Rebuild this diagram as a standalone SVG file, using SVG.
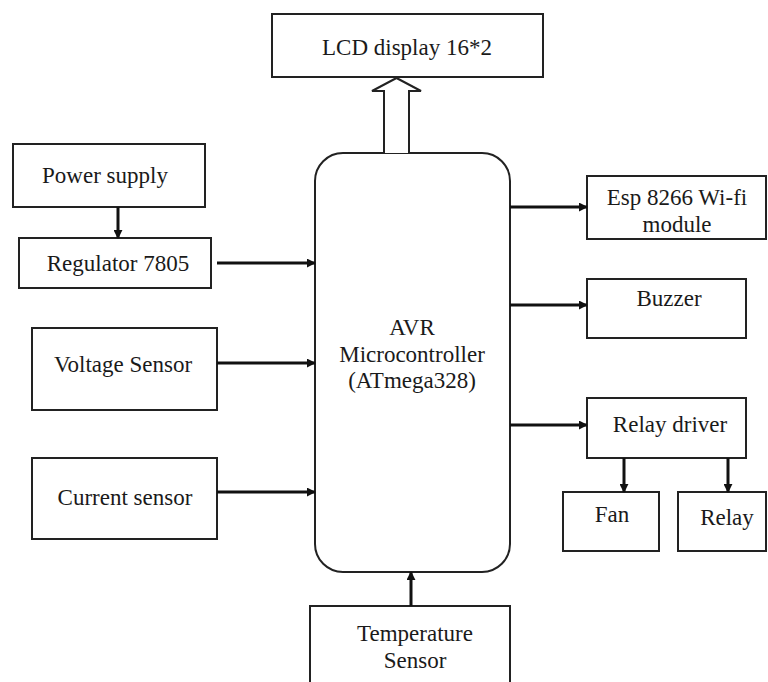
<svg xmlns="http://www.w3.org/2000/svg" width="768" height="682" viewBox="0 0 768 682">
<defs>
<marker id="ah" viewBox="0 0 10 10" refX="9" refY="5" markerWidth="3" markerHeight="3" orient="auto" markerUnits="strokeWidth">
<path d="M0,0 L10,5 L0,10 z" fill="#111"/>
</marker>
<style>
.box{fill:#fff;stroke:#222;stroke-width:2}
.t{font-family:"Liberation Serif","Times New Roman",serif;font-size:23px;fill:#1a1a1a;text-anchor:middle}
.c{stroke:#111;stroke-width:3;fill:none;marker-end:url(#ah)}
</style>
</defs>
<rect width="768" height="682" fill="#fff"/>

<g id="lcd">
<rect class="box" x="272" y="14" width="271" height="63"/>
<text class="t" x="407" y="55">LCD display 16*2</text>
</g>

<g id="mcu">
<rect class="box" x="315" y="153" width="195" height="419" rx="28"/>
<text class="t" x="412" y="335">AVR</text>
<text class="t" x="412" y="362">Microcontroller</text>
<text class="t" x="412" y="388">(ATmega328)</text>
</g>

<g id="power">
<rect class="box" x="13" y="144" width="192" height="63"/>
<text class="t" x="105" y="183">Power supply</text>
</g>

<g id="regulator">
<rect class="box" x="19" y="238" width="192" height="50"/>
<text class="t" x="118" y="271">Regulator 7805</text>
</g>

<g id="voltage">
<rect class="box" x="32" y="328" width="185" height="82"/>
<text class="t" x="123" y="372">Voltage Sensor</text>
</g>

<g id="current">
<rect class="box" x="32" y="458" width="185" height="81"/>
<text class="t" x="125" y="505">Current sensor</text>
</g>

<g id="esp">
<rect class="box" x="587" y="176" width="179" height="63"/>
<text class="t" x="677" y="205">Esp 8266 Wi-fi</text>
<text class="t" x="677" y="232">module</text>
</g>

<g id="buzzer">
<rect class="box" x="587" y="279" width="159" height="59"/>
<text class="t" x="669" y="306">Buzzer</text>
</g>

<g id="relaydriver">
<rect class="box" x="587" y="398" width="159" height="60"/>
<text class="t" x="670" y="432">Relay driver</text>
</g>

<g id="fan">
<rect class="box" x="563" y="492" width="96" height="59"/>
<text class="t" x="612" y="522">Fan</text>
</g>

<g id="relay">
<rect class="box" x="678" y="492" width="88" height="59"/>
<text class="t" x="727" y="525">Relay</text>
</g>

<g id="temperature">
<rect class="box" x="310" y="606" width="200" height="90"/>
<text class="t" x="415" y="641">Temperature</text>
<text class="t" x="415" y="668">Sensor</text>
</g>

<g id="connectors">
<path d="M384,153 L384,91 L372,91 L396.5,78 L421,91 L409,91 L409,153" fill="#fff" stroke="#222" stroke-width="2" stroke-linejoin="miter"/>
<line class="c" x1="118" y1="207" x2="118" y2="238"/>
<line class="c" x1="217" y1="263" x2="315" y2="263"/>
<line class="c" x1="217" y1="363" x2="315" y2="363"/>
<line class="c" x1="217" y1="492" x2="315" y2="492"/>
<line class="c" x1="510" y1="207" x2="587" y2="207"/>
<line class="c" x1="510" y1="305" x2="587" y2="305"/>
<line class="c" x1="510" y1="425" x2="587" y2="425"/>
<line class="c" x1="624" y1="458" x2="624" y2="492"/>
<line class="c" x1="728" y1="458" x2="728" y2="492"/>
<line class="c" x1="411" y1="606" x2="411" y2="572"/>
</g>
</svg>
